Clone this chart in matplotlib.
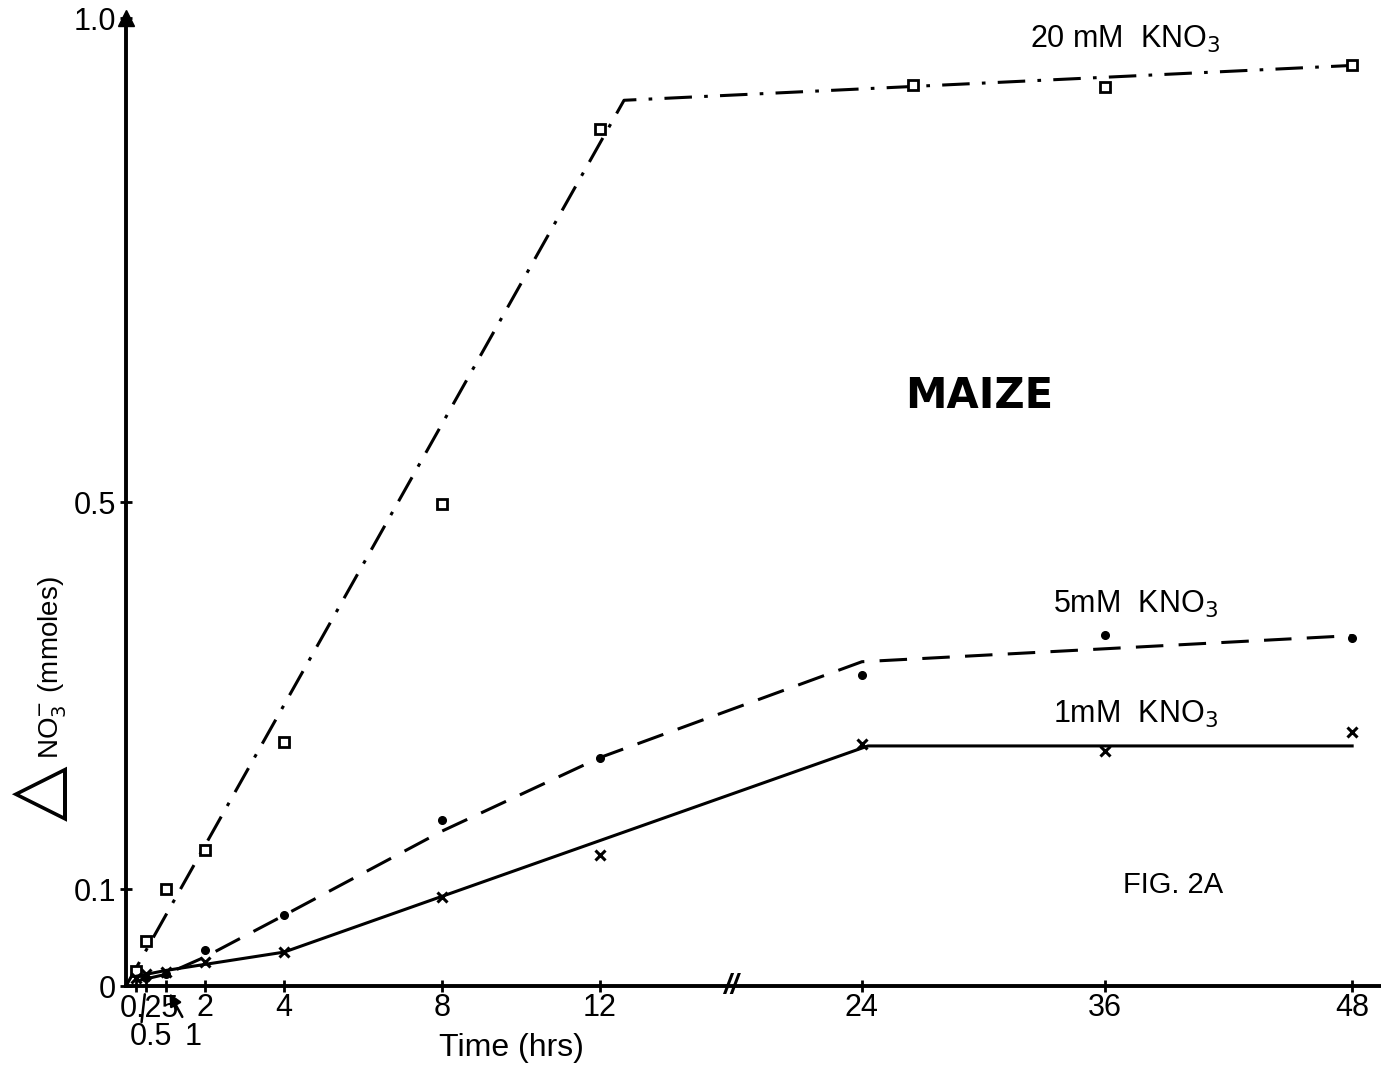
import matplotlib
matplotlib.use("Agg")
import matplotlib.pyplot as plt
import numpy as np

plt.rcParams['font.family'] = ['Liberation Sans', 'DejaVu Sans']

# 20 mM KNO3
t20 = [0.25, 0.5, 1, 2, 4, 8, 12, 26.5, 36, 48]
y20 = [0.016, 0.047, 0.100, 0.141, 0.252, 0.498, 0.885, 0.931, 0.929, 0.951]
fit20_t = [0, 13.1, 48]
fit20_y = [0, 0.915, 0.951]

# 5 mM KNO3
t5 = [0.5, 1, 2, 4, 8, 12, 24, 36, 48]
y5 = [0.008, 0.012, 0.037, 0.073, 0.171, 0.236, 0.321, 0.363, 0.359]
fit5_t = [0.25, 1, 2, 4, 8, 12, 24, 48]
fit5_y = [0.005, 0.012, 0.030, 0.073, 0.160, 0.236, 0.335, 0.362]

# 1 mM KNO3
t1 = [0.25, 0.5, 1, 2, 4, 8, 12, 24, 36, 48]
y1 = [0.008, 0.012, 0.014, 0.025, 0.035, 0.092, 0.135, 0.250, 0.243, 0.262]
fit1_t = [0.25, 1, 4, 24.3, 48]
fit1_y = [0.010, 0.016, 0.035, 0.248, 0.248]

xticks = [0.25, 0.5, 1, 2, 4, 8, 12, 24, 36, 48]
xlabels = ['', '', '', '2', '4', '8', '12', '24', '36', '48']
yticks = [0, 0.1, 0.5, 1.0]
ylabels = ['0', '0.1', '0.5', '1.0']

# broken time axis: hand-drawn spacing, squeezed after 12 h
t_knots = [0, 12, 24, 36, 48, 60]
u_knots = [0, 12, 18.63, 24.78, 31.04, 37.3]

def fwd(t):
    return np.interp(t, t_knots, u_knots)

def inv(u):
    return np.interp(u, u_knots, t_knots)

fig = plt.figure(figsize=(13.81, 10.68), dpi=100)
ax = fig.add_axes([126 / 1381, 82 / 1068, 1 - 126 / 1381, 968 / 1068])
ax.set_xscale('function', functions=(fwd, inv))
ax.set_xlim(0, 49.4)
ax.set_ylim(0, 1.0)

k = 'black'
ax.plot(fit20_t, fit20_y, color=k, lw=2.2, linestyle=(0, (9, 4, 1.2, 4)))
ax.plot(t20, y20, 's', ms=7, mfc='white', mec=k, mew=2, linestyle='none')
ax.plot(fit5_t, fit5_y, color=k, lw=2.2, linestyle=(0, (9, 5)))
ax.plot(t5, y5, 'o', ms=5.5, color=k, linestyle='none')
ax.plot(fit1_t, fit1_y, color=k, lw=2.2)
ax.plot(t1, y1, 'x', ms=7, mew=2.2, color=k, linestyle='none')

for s in ['top', 'right']:
    ax.spines[s].set_visible(False)
for s in ['left', 'bottom']:
    ax.spines[s].set_linewidth(2.8)

ax.set_xticks(xticks)
ax.set_xticklabels(xlabels)
ax.set_yticks(yticks)
ax.set_yticklabels(ylabels)
ax.xaxis.set_minor_locator(matplotlib.ticker.NullLocator())
ax.tick_params(direction='inout', length=8, width=2, labelsize=22, pad=1)
ax.tick_params(axis='y', pad=3)

# arrow at top of y axis
ax.plot([0], [1.0], marker='^', ms=11, color=k, clip_on=False)

# crowded early tick labels
ax.annotate('0.25', xy=(0.25, 0), xytext=(10, -6), textcoords='offset points',
            ha='center', va='top', fontsize=22, annotation_clip=False)
ax.annotate('0.5', xy=(0.5, 0), xytext=(4, -26), textcoords='offset points',
            ha='center', va='top', fontsize=22, annotation_clip=False)
ax.annotate('', xy=(0.5, 0), xytext=(-3, -26), textcoords='offset points',
            annotation_clip=False,
            arrowprops=dict(arrowstyle='-', color=k, lw=1.8, shrinkA=0, shrinkB=6))
ax.annotate('1', xy=(1, 0), xytext=(20, -26), textcoords='offset points',
            ha='center', va='top', fontsize=22, annotation_clip=False,
            arrowprops=dict(arrowstyle='-|>', color=k, lw=1.8, shrinkA=2, shrinkB=6,
                            mutation_scale=18))

# axis break mark
ax.text(18, 0, '//', ha='center', va='center', fontsize=20, fontweight='bold',
        style='italic', clip_on=False)

ax.text(37, 0.962, '20 mM  KNO$_3$', fontsize=22, ha='center', va='bottom')
ax.text(37.5, 0.378, '5mM  KNO$_3$', fontsize=22, ha='center', va='bottom')
ax.text(37.5, 0.264, '1mM  KNO$_3$', fontsize=22, ha='center', va='bottom')
ax.text(29.8, 0.61, 'MAIZE', fontsize=30, fontweight='bold', ha='center', va='center',
        family='DejaVu Sans')
ax.text(39.3, 0.104, 'FIG. 2A', fontsize=21, ha='center', va='center')

fig.text(511 / 1381, 1 - 1048 / 1068, 'Time (hrs)', fontsize=23, ha='center', va='center')
fig.text(40 / 1381, 1 - 793 / 1068, r'$\bigtriangleup$', fontsize=52, rotation=90,
         ha='center', va='center')
fig.text(52 / 1381, 1 - 668 / 1068, 'NO$_3^{-}$ (mmoles)', fontsize=20, rotation=90,
         ha='center', va='center')

fig.savefig('out.png', dpi=100, facecolor='white')
